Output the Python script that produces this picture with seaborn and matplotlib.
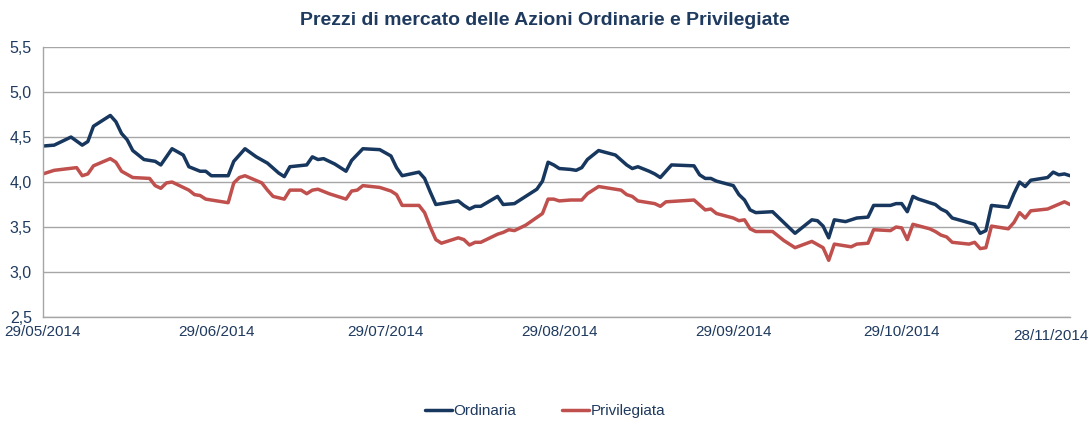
import pandas as pd
import numpy as np
import matplotlib
matplotlib.use("Agg")
import matplotlib.pyplot as plt
import matplotlib.dates as mdates
from matplotlib.ticker import FuncFormatter, MultipleLocator
from matplotlib.transforms import ScaledTranslation
import seaborn as sns

# Prezzi (giorni dal 29/05/2014)
inizio = pd.Timestamp("2014-05-29")

giorni_ord = [0, 2, 5, 7, 8, 9, 12, 13, 14, 15, 16, 18, 20, 21, 23, 25, 26, 28, 29, 30,
              33, 34, 36, 38, 40, 42, 43, 44, 47, 48, 49, 50, 52, 54, 55, 57, 60, 62, 63, 64,
              67, 68, 69, 70, 74, 75, 76, 77, 78, 81, 82, 84, 88, 89, 90, 91, 92, 94, 95, 96,
              97, 99, 102, 104, 105, 106, 108, 109, 110, 112, 116, 117, 118, 119, 120, 123, 124, 125, 126, 127,
              130, 134, 137, 138, 139, 140, 141, 143, 145, 147, 148, 151, 152, 153, 154, 155, 156, 159, 160, 161,
              162, 166, 167, 168, 169, 172, 173, 174, 175, 176, 179, 180, 181, 182, 183]
prezzi_ord = [4.40, 4.41, 4.50, 4.41, 4.45, 4.62, 4.74, 4.67, 4.54, 4.47, 4.35, 4.25, 4.23, 4.19, 4.37, 4.30, 4.17, 4.12, 4.12, 4.07,
              4.07, 4.23, 4.37, 4.28, 4.21, 4.10, 4.06, 4.17, 4.19, 4.28, 4.25, 4.26, 4.20, 4.12, 4.24, 4.37, 4.36, 4.29, 4.16, 4.07,
              4.11, 4.04, 3.89, 3.75, 3.79, 3.74, 3.70, 3.73, 3.73, 3.84, 3.75, 3.76, 3.92, 4.01, 4.22, 4.19, 4.15, 4.14, 4.13, 4.16,
              4.25, 4.35, 4.30, 4.19, 4.15, 4.17, 4.12, 4.09, 4.05, 4.19, 4.18, 4.08, 4.04, 4.04, 4.01, 3.96, 3.86, 3.80, 3.69, 3.66,
              3.67, 3.43, 3.58, 3.57, 3.51, 3.38, 3.58, 3.56, 3.60, 3.61, 3.74, 3.74, 3.76, 3.76, 3.67, 3.84, 3.81, 3.75, 3.70, 3.67,
              3.60, 3.53, 3.43, 3.46, 3.74, 3.72, 3.87, 4.00, 3.95, 4.02, 4.05, 4.11, 4.08, 4.09, 4.07]

giorni_priv = [0, 2, 6, 7, 8, 9, 12, 13, 14, 16, 19, 20, 21, 22, 23, 26, 27, 28, 29, 33,
               34, 35, 36, 39, 40, 41, 43, 44, 46, 47, 48, 49, 51, 54, 55, 56, 57, 60, 62, 63,
               64, 67, 68, 69, 70, 71, 74, 75, 76, 77, 78, 81, 82, 83, 84, 86, 89, 90, 91, 92,
               94, 96, 97, 99, 103, 104, 105, 106, 109, 110, 111, 116, 118, 119, 120, 123, 124, 125, 126, 127,
               130, 132, 134, 137, 139, 140, 141, 144, 145, 147, 148, 151, 152, 153, 154, 155, 158, 159, 160, 161,
               162, 165, 166, 167, 168, 169, 172, 173, 174, 175, 176, 179, 182, 183]
prezzi_priv = [4.09, 4.13, 4.16, 4.07, 4.09, 4.18, 4.26, 4.22, 4.12, 4.05, 4.04, 3.96, 3.93, 3.99, 4.00, 3.91, 3.86, 3.85, 3.81, 3.77,
               3.99, 4.05, 4.07, 3.99, 3.91, 3.84, 3.81, 3.91, 3.91, 3.87, 3.91, 3.92, 3.87, 3.81, 3.90, 3.91, 3.96, 3.94, 3.90, 3.86,
               3.74, 3.74, 3.66, 3.50, 3.36, 3.32, 3.38, 3.36, 3.30, 3.33, 3.33, 3.42, 3.44, 3.47, 3.46, 3.52, 3.65, 3.81, 3.81, 3.79,
               3.80, 3.80, 3.87, 3.95, 3.91, 3.86, 3.84, 3.79, 3.76, 3.73, 3.78, 3.80, 3.69, 3.70, 3.65, 3.60, 3.57, 3.58, 3.48, 3.45,
               3.45, 3.35, 3.27, 3.34, 3.27, 3.13, 3.31, 3.28, 3.31, 3.32, 3.47, 3.46, 3.50, 3.49, 3.36, 3.53, 3.48, 3.45, 3.41, 3.39,
               3.33, 3.31, 3.33, 3.26, 3.27, 3.51, 3.48, 3.55, 3.66, 3.60, 3.68, 3.70, 3.78, 3.75]

serie = ["Ordinaria", "Privilegiata"]
colori = ["#17375E", "#C0504D"]
date_etichette = ["2014-05-29", "2014-06-29", "2014-07-29", "2014-08-29",
                  "2014-09-29", "2014-10-29", "2014-11-28"]

df = pd.concat([
    pd.DataFrame({"Data": inizio + pd.to_timedelta(giorni_ord, unit="D"),
                  "Prezzo": prezzi_ord, "Azione": serie[0]}),
    pd.DataFrame({"Data": inizio + pd.to_timedelta(giorni_priv, unit="D"),
                  "Prezzo": prezzi_priv, "Azione": serie[1]}),
], ignore_index=True)

sns.set_style("white")
plt.rcParams["font.family"] = ["Liberation Sans", "DejaVu Sans"]
testo = "#1F3A5F"
griglia = "#A6A6A6"

fig = plt.figure(figsize=(10.9, 4.24), dpi=100)
ax = fig.add_axes([0.0394, 0.2524, 0.9423, 0.6366])

sns.lineplot(data=df, x="Data", y="Prezzo", hue="Azione", hue_order=serie,
             palette=colori, linewidth=2.5, ax=ax)

ax.set_ylim(2.5, 5.5)
ax.yaxis.set_major_locator(MultipleLocator(0.5))
ax.yaxis.set_major_formatter(FuncFormatter(lambda v, p: f"{v:.1f}".replace(".", ",")))
ax.set_xlim(pd.Timestamp(date_etichette[0]), pd.Timestamp(date_etichette[-1]))
ax.set_xticks(pd.to_datetime(date_etichette))
ax.xaxis.set_major_formatter(mdates.DateFormatter("%d/%m/%Y"))

ax.yaxis.grid(True, color=griglia, linewidth=1.0)
ax.xaxis.grid(False)
for s in ["top", "right"]:
    ax.spines[s].set_visible(False)
for s in ["left", "bottom"]:
    ax.spines[s].set_color(griglia)
    ax.spines[s].set_linewidth(1.0)

ax.tick_params(axis="both", length=0, labelcolor=testo)
ax.tick_params(axis="y", pad=8, labelsize=11.5)
ax.tick_params(axis="x", pad=6, labelsize=11)
ax.set_xlabel("")
ax.set_ylabel("")

# l'ultima etichetta viene spostata a sinistra come nell'originale
ultima = ax.get_xticklabels()[-1]
ultima.set_transform(ultima.get_transform() + ScaledTranslation(-0.19, -0.04, fig.dpi_scale_trans))

fig.suptitle("Prezzi di mercato delle Azioni Ordinarie e Privilegiate",
             x=0.5, y=0.972, fontsize=14, fontweight="bold", color=testo)

handles, labels = ax.get_legend_handles_labels()
ax.legend_.remove()
fig.legend(handles, labels, loc="center", bbox_to_anchor=(0.5, 0.03), ncol=2,
           frameon=False, fontsize=11, handlelength=1.75, handletextpad=0.1,
           columnspacing=3.0, labelcolor=testo, borderpad=0.2)

fig.savefig("out.png", dpi=100)
